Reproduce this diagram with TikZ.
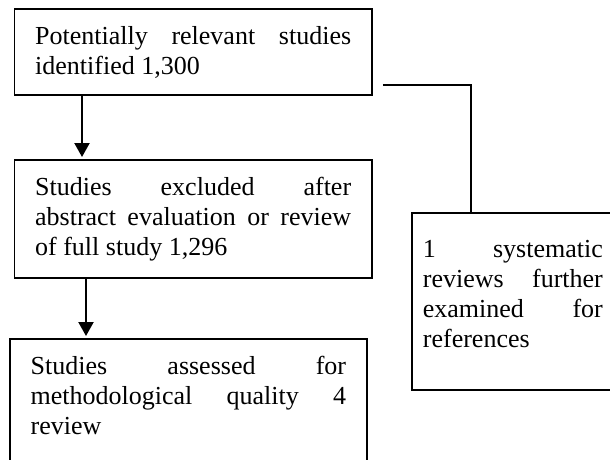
\documentclass[tikz,border=0pt]{standalone}
\usepackage{fontspec}
\setmainfont{Liberation Serif}
\usetikzlibrary{arrows.meta}
\hyphenpenalty=10000
\tikzset{bx/.style = {draw, line width=1.8pt, anchor=north west, align=justify,
                      inner xsep=20.75pt, inner ysep=18pt, text height=18pt,
                      font=\fontsize{26pt}{30pt}\selectfont},
         ln/.style = {line width=1.8pt},
         ar/.style = {line width=2.2pt, shorten >=2pt}}

\begin{document}
\begin{tikzpicture}[x=1pt, y=-1pt, >={Triangle[length=14pt, width=15pt]}]
    \useasboundingbox (0,0) rectangle (610,459);
    % boxes
    \node[bx, text width=316pt,   text depth=32pt] (p) at (13.5,8)  {Potentially relevant studies\linebreak identified 1,300};
    \node[bx, text width=316pt,   text depth=64pt] (x) at (13.5,159) {Studies excluded after\linebreak abstract evaluation or review\linebreak of full study 1,296};
    \node[bx, text width=315.5pt, text depth=150pt] (q) at (9,338)  {Studies assessed for\linebreak methodological quality 4\linebreak review};
    \node[bx, text width=180pt, inner xsep=11pt, inner ysep=27pt, text depth=105pt] (r) at (411,212) {1 systematic\linebreak reviews further\linebreak examined for\linebreak references};
    % connectors
    \draw[->, ar] ([xshift=68.5pt]p.south west) -- ([xshift=68.5pt]x.north west);
    \draw[->, ar] ([xshift=72.5pt]x.south west) -- ([xshift=77pt]q.north west);
    \draw[ln] ([shift={(10pt,11pt)}]p.south east) -| ([xshift=60pt]r.north west);
\end{tikzpicture}
\end{document}
